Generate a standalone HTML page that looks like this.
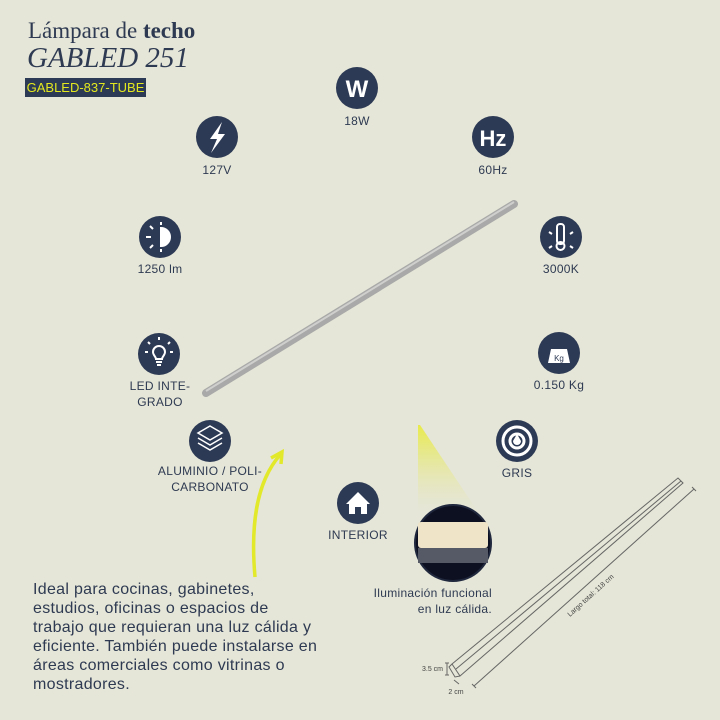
<!DOCTYPE html>
<html><head><meta charset="utf-8"><style>
body{margin:0;width:720px;height:720px;background:#e5e6d7;position:relative;overflow:hidden;font-family:"Liberation Sans",sans-serif;color:#2e3a52}
.t{position:absolute;font-size:12px;text-align:center;line-height:16px;letter-spacing:0.3px}
.serif{font-family:"Liberation Serif",serif;position:absolute}
</style></head><body>
<div class="serif" style="left:28px;top:18px;font-size:23px">Lámpara de <b>techo</b></div>
<div class="serif" style="left:27px;top:42px;font-size:29px;font-style:italic">GABLED 251</div>
<div style="position:absolute;left:25px;top:78px;width:121px;height:19px;background:#2d3a55;color:#e3e81e;font-size:13px;line-height:19px;text-align:center">GABLED-837-TUBE</div>
<svg width="720" height="720" style="position:absolute;left:0;top:0">
<defs><linearGradient id="cone" x1="0" y1="0" x2="0" y2="1"><stop offset="0" stop-color="#e8ea4a"/><stop offset="1" stop-color="#e5e6d7" stop-opacity="0.3"/></linearGradient></defs>
<g fill="#2d3a55">
<circle cx="357" cy="88" r="21"/><circle cx="217" cy="137" r="21"/><circle cx="493" cy="137" r="21"/>
<circle cx="160" cy="237" r="21"/><circle cx="561" cy="237" r="21"/><circle cx="159" cy="354" r="21"/>
<circle cx="559" cy="353" r="21"/><circle cx="210" cy="441" r="21"/><circle cx="517" cy="441" r="21"/><circle cx="358" cy="503" r="21"/>
</g>
<text x="357" y="97" fill="#fff" font-size="24" text-anchor="middle" font-family="Liberation Sans Narrow,Liberation Sans" font-weight="bold">W</text>
<text x="493" y="146" fill="#fff" font-size="22" text-anchor="middle" font-family="Liberation Sans Narrow,Liberation Sans" font-weight="bold">Hz</text>
<polygon points="222,122 210,139 217,139 211,153 225,134 218,134" fill="#fff"/>
<g stroke="#fff" stroke-width="2" fill="none"><path d="M161,228 a9,9 0 0 1 0,18z" fill="#fff"/><path d="M161,222v3M161,249v3M146,237h5M150,226l3,3M150,248l3,-3"/></g>
<g stroke="#fff" stroke-width="2" fill="none"><rect x="557" y="224" width="7" height="20" rx="3"/><circle cx="560.5" cy="246" r="4"/><path d="M549,232l3,2M573,232l-3,2M549,248l3,-2M573,248l-3,-2"/></g>
<g stroke="#fff" stroke-width="2" fill="none"><path d="M153,352a6,6 0 1 1 12,0c0,3-3,5-3,7h-6c0-2-3-4-3-7z"/><path d="M156,362h6M157,365h4M159,340v-3M150,344l-2,-2M168,344l2,-2M148,352h-3M170,352h3"/></g>
<path d="M551,349h16l3,14h-22z" fill="#fff"/><text x="559" y="361" font-size="8" text-anchor="middle" fill="#2d3a55">Kg</text>
<g stroke="#fff" stroke-width="1.5" fill="none"><path d="M210,426l12,7-12,7-12-7z"/><path d="M198,438l12,7 12-7"/><path d="M198,443l12,7 12-7"/></g>
<g stroke="#fff" stroke-width="3" fill="none"><circle cx="517" cy="441" r="14"/><circle cx="517" cy="441" r="7"/></g><path d="M517,434l4,7a4,4 0 1 1-8,0z" fill="#fff"/>
<path d="M346,504l12-12 12,12h-3v10h-6v-7h-6v7h-6v-10z" fill="#fff"/>
<line x1="206" y1="393" x2="514" y2="204" stroke="#a8a9a8" stroke-width="8" stroke-linecap="round"/>
<line x1="206" y1="391" x2="514" y2="202" stroke="#cfd0ce" stroke-width="2"/>
<polygon points="418,425 420,425 478,512 418,512" fill="url(#cone)"/>
<circle cx="453" cy="543" r="38" fill="#0d1020" stroke="#20283e" stroke-width="2"/>
<rect x="418" y="522" width="70" height="26" rx="3" fill="#efe3c8"/>
<rect x="418" y="548" width="70" height="15" fill="#555a66"/>
<path d="M255,577C250,520 258,480 280,455" stroke="#e2e82a" stroke-width="3.5" fill="none"/>
<path d="M271,458l11-6-1,12" stroke="#e2e82a" stroke-width="3.5" fill="none"/>
<g stroke="#666" stroke-width="1" fill="none">
<path d="M452,664L678,478l5,5L460,676zM456,669L681,481M452,664l-3,3 6,10 5,-1"/>
<path d="M474,686L694,489M692,487l4,4M472,684l4,4"/>
<path d="M447,663v12M445,663h4M445,675h4M454,680l5,4"/>
</g>
<text x="443" y="671" font-size="7" fill="#444" text-anchor="end">3.5 cm</text>
<text x="456" y="694" font-size="7" fill="#444" text-anchor="middle">2 cm</text>
<text x="0" y="0" font-size="7" fill="#444" transform="translate(570,617) rotate(-42)">Largo total: 118 cm</text>
</svg>
<div class="t" style="left:317px;top:113px;width:80px">18W</div>
<div class="t" style="left:177px;top:162px;width:80px">127V</div>
<div class="t" style="left:453px;top:162px;width:80px">60Hz</div>
<div class="t" style="left:120px;top:261px;width:80px">1250 lm</div>
<div class="t" style="left:521px;top:261px;width:80px">3000K</div>
<div class="t" style="left:110px;top:378px;width:100px">LED INTE-<br>GRADO</div>
<div class="t" style="left:509px;top:377px;width:100px">0.150 Kg</div>
<div class="t" style="left:150px;top:463px;width:120px">ALUMINIO / POLI-<br>CARBONATO</div>
<div class="t" style="left:477px;top:465px;width:80px">GRIS</div>
<div class="t" style="left:318px;top:527px;width:80px">INTERIOR</div>
<div class="t" style="left:330px;top:585px;width:162px;text-align:right">Iluminación funcional<br>en luz cálida.</div>
<div style="position:absolute;left:33px;top:580px;width:340px;font-size:16px;line-height:19px;letter-spacing:0.3px;white-space:nowrap">Ideal para cocinas, gabinetes,<br>estudios, oficinas o espacios de<br>trabajo que requieran una luz cálida y<br>eficiente. También puede instalarse en<br>áreas comerciales como vitrinas o<br>mostradores.</div>
</body></html>
